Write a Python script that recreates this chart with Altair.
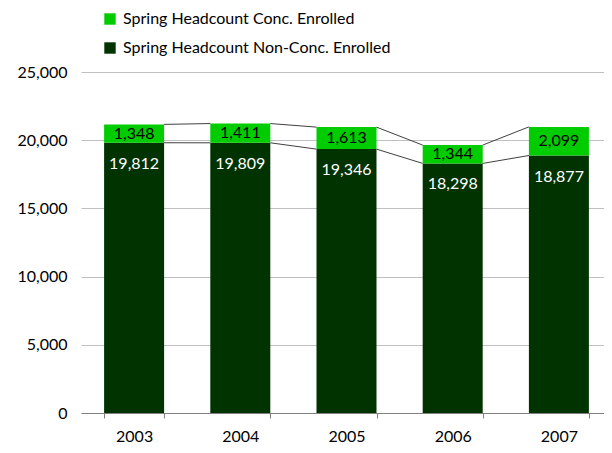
import altair as alt
import pandas as pd

years = ["2003", "2004", "2005", "2006", "2007"]
nonconc = [19812, 19809, 19346, 18298, 18877]
conc = [1348, 1411, 1613, 1344, 2099]
s_conc = "Spring Headcount Conc. Enrolled"
s_non = "Spring Headcount Non-Conc. Enrolled"
y_ticks = [0, 5000, 10000, 15000, 20000, 25000]

FONT = "Lato"

rows = []
for yr, n, c in zip(years, nonconc, conc):
    rows.append({"year": yr, "series": s_non, "value": n, "y0": 0, "y1": n, "ord": 0,
                 "ymid": n / 2})
    rows.append({"year": yr, "series": s_conc, "value": c, "y0": n, "y1": n + c, "ord": 1,
                 "ymid": n + c / 2})
df = pd.DataFrame(rows)

seg = []
for i in range(len(years) - 1):
    seg.append({"x": years[i], "x2": years[i + 1], "y": nonconc[i], "y2": nonconc[i + 1]})
    seg.append({"x": years[i], "x2": years[i + 1],
                "y": nonconc[i] + conc[i], "y2": nonconc[i + 1] + conc[i + 1]})
segdf = pd.DataFrame(seg)

xscale = alt.Scale(domain=years, paddingInner=0.435, paddingOuter=0.2175)
yscale = alt.Scale(domain=[0, 25000])

xaxis = alt.Axis(title=None, labelAngle=0, tickBand="extent", tickSize=5,
                 tickColor="#808080", domainColor="#808080", labelFont=FONT,
                 labelFontSize=16, labelColor="#000000", labelPadding=10, grid=False)
yaxis = alt.Axis(title=None, values=y_ticks, format=",.0f", domain=False, ticks=False,
                 gridColor="#c0c0c0", labelFont=FONT, labelFontSize=16,
                 labelColor="#000000", labelPadding=14)

base = alt.Chart(df)

bars = base.mark_bar().encode(
    x=alt.X("year:N", scale=xscale, axis=xaxis),
    y=alt.Y("y0:Q", scale=yscale, axis=yaxis),
    y2="y1:Q",
    color=alt.Color("series:N",
                    scale=alt.Scale(domain=[s_conc, s_non], range=["#00CC00", "#003300"]),
                    legend=alt.Legend(orient="none", legendX=21, legendY=-61, title=None,
                                      symbolType="square", symbolSize=130,
                                      symbolStrokeWidth=0, labelFont=FONT,
                                      labelFontSize=16, labelColor="#000000",
                                      labelLimit=0, rowPadding=13, labelOffset=5,
                                      padding=0)),
)

lines = alt.Chart(segdf).mark_rule(color="#404040", strokeWidth=1, xOffset=30,
                                   x2Offset=-30).encode(
    x=alt.X("x:N", scale=xscale),
    x2="x2:N",
    y=alt.Y("y:Q", scale=yscale),
    y2="y2:Q",
)

conc_text = base.transform_filter(alt.datum.ord == 1).mark_text(
    font=FONT, fontSize=16, color="#000000", baseline="middle").encode(
    x=alt.X("year:N", scale=xscale),
    y=alt.Y("ymid:Q", scale=yscale),
    text=alt.Text("value:Q", format=","),
)

non_text = base.transform_filter(alt.datum.ord == 0).mark_text(
    font=FONT, fontSize=16, color="#ffffff", baseline="middle", dy=21).encode(
    x=alt.X("year:N", scale=xscale),
    y=alt.Y("y1:Q", scale=yscale),
    text=alt.Text("value:Q", format=","),
)

chart = alt.layer(bars, lines, conc_text, non_text).properties(
    width=531, height=341,
    autosize=alt.AutoSizeParams(type="none"),
    padding={"left": 73, "top": 64, "right": -8, "bottom": 32},
).configure_view(stroke=None)

chart.save("out.html", embed_options={"renderer": "svg", "actions": False})
